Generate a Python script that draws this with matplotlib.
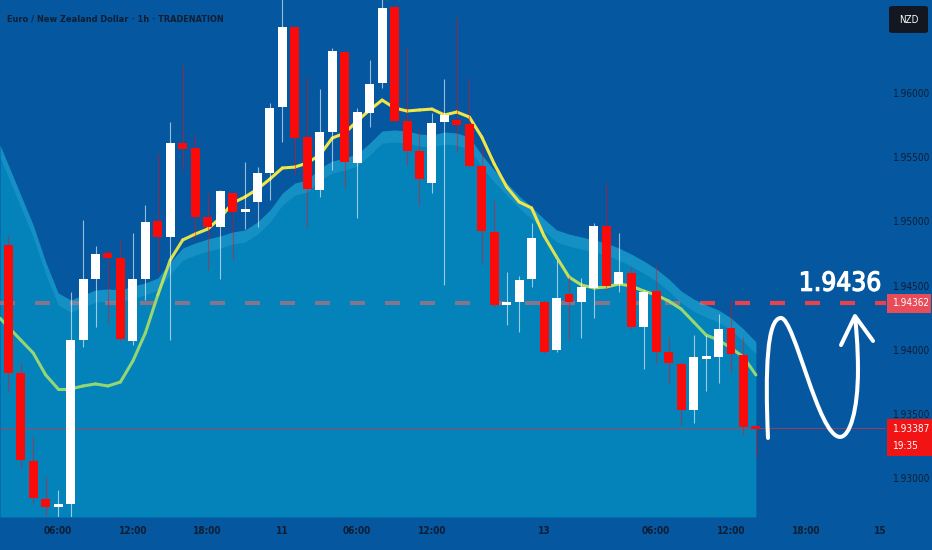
import numpy as np
import matplotlib
matplotlib.use("Agg")
import matplotlib.pyplot as plt
from matplotlib import font_manager as fm
from matplotlib import patheffects as pe
from matplotlib.path import Path
from matplotlib.patches import PathPatch, Rectangle, FancyBboxPatch
from matplotlib.collections import LineCollection
from matplotlib.colors import to_rgb

# ---------------- data ----------------
opens = [1.94816, 1.93818, 1.93133, 1.92836, 1.92774, 1.92797, 1.94075, 1.94551, 1.94753, 1.94714,
         1.94068, 1.94551, 1.95003, 1.94878, 1.95610, 1.95571, 1.95034, 1.94956, 1.95221, 1.95073,
         1.95151, 1.95377, 1.95891, 1.96514, 1.95657, 1.95244, 1.95696, 1.96319, 1.95455, 1.95844,
         1.96078, 1.96670, 1.95782, 1.95548, 1.95299, 1.95774, 1.95790, 1.95758, 1.95431, 1.94917,
         1.94348, 1.94371, 1.94551, 1.94371, 1.93997, 1.94434, 1.94371, 1.94481, 1.94964, 1.94512,
         1.94597, 1.94177, 1.94457, 1.93982, 1.93888, 1.93530, 1.93935, 1.93943, 1.94169, 1.93959,
         1.93397]
highs = [1.94894, 1.93896, 1.93327, 1.93008, 1.92907, 1.94449, 1.95010, 1.94808, 1.94777, 1.94855,
         1.94909, 1.95127, 1.95532, 1.95774, 1.96218, 1.95673, 1.95221, 1.95244, 1.95229, 1.95462,
         1.95423, 1.95922, 1.96764, 1.96522, 1.96125, 1.96031, 1.96351, 1.96327, 1.95883, 1.96257,
         1.96764, 1.96686, 1.96358, 1.95712, 1.95844, 1.96109, 1.96592, 1.96117, 1.95579, 1.95166,
         1.94605, 1.94574, 1.94987, 1.94387, 1.94699, 1.94566, 1.94558, 1.94987, 1.95299, 1.94909,
         1.94644, 1.94465, 1.94660, 1.94099, 1.93904, 1.94114, 1.94114, 1.94278, 1.94395, 1.94099,
         1.93397]
lows = [1.93670, 1.93078, 1.92805, 1.92704, 1.92673, 1.92673, 1.94021, 1.94177, 1.94208, 1.94068,
        1.94036, 1.94387, 1.94597, 1.94075, 1.95400, 1.94855, 1.94621, 1.94551, 1.94699, 1.94940,
        1.94956, 1.95166, 1.95618, 1.95361, 1.94956, 1.95190, 1.95400, 1.95260, 1.95026, 1.95735,
        1.96039, 1.95774, 1.95439, 1.95127, 1.95221, 1.94504, 1.95540, 1.95416, 1.94675, 1.94333,
        1.94192, 1.94138, 1.94488, 1.93974, 1.93982, 1.94075, 1.94091, 1.94247, 1.94465, 1.94449,
        1.94161, 1.93849, 1.93896, 1.93740, 1.93413, 1.93429, 1.93678, 1.93740, 1.93826, 1.93335,
        1.93164]
closes = [1.93818, 1.93140, 1.92844, 1.92774, 1.92797, 1.94075, 1.94551, 1.94745, 1.94714, 1.94083,
          1.94551, 1.94995, 1.94878, 1.95610, 1.95564, 1.95034, 1.94956, 1.95236, 1.95073, 1.95096,
          1.95377, 1.95883, 1.96514, 1.95649, 1.95252, 1.95696, 1.96327, 1.95462, 1.95852, 1.96070,
          1.96662, 1.95782, 1.95548, 1.95330, 1.95766, 1.95829, 1.95751, 1.95431, 1.94925, 1.94348,
          1.94371, 1.94543, 1.94870, 1.93982, 1.94403, 1.94371, 1.94488, 1.94964, 1.94496, 1.94605,
          1.94177, 1.94449, 1.93982, 1.93896, 1.93530, 1.93943, 1.93943, 1.94161, 1.93966, 1.93397,
          1.93387]
ma_values = [1.94177, 1.94075, 1.93974, 1.93803, 1.93694, 1.93694, 1.93717, 1.93733, 1.93717, 1.93748,
             1.93912, 1.94130, 1.94426, 1.94699, 1.94855, 1.94901, 1.94940, 1.95026, 1.95143, 1.95190,
             1.95252, 1.95330, 1.95416, 1.95423, 1.95455, 1.95517, 1.95649, 1.95688, 1.95782, 1.95868,
             1.95945, 1.95883, 1.95860, 1.95868, 1.95875, 1.95829, 1.95852, 1.95813, 1.95657, 1.95447,
             1.95268, 1.95151, 1.95104, 1.94886, 1.94722, 1.94566, 1.94504, 1.94481, 1.94488, 1.94512,
             1.94496, 1.94457, 1.94426, 1.94379, 1.94317, 1.94216, 1.94114, 1.94075, 1.94013, 1.93943,
             1.93803]
band_upper = [1.95439, 1.95205, 1.94971, 1.94683, 1.94442, 1.94387, 1.94426, 1.94465, 1.94473, 1.94465,
              1.94496, 1.94520, 1.94558, 1.94683, 1.94792, 1.94831, 1.94862, 1.94886, 1.94917, 1.94933,
              1.94995, 1.95088, 1.95221, 1.95299, 1.95322, 1.95416, 1.95470, 1.95494, 1.95525, 1.95610,
              1.95704, 1.95712, 1.95704, 1.95681, 1.95673, 1.95696, 1.95688, 1.95657, 1.95517, 1.95400,
              1.95299, 1.95197, 1.95112, 1.95018, 1.94933, 1.94901, 1.94878, 1.94855, 1.94831, 1.94792,
              1.94745, 1.94691, 1.94629, 1.94551, 1.94457, 1.94395, 1.94348, 1.94309, 1.94247, 1.94161,
              1.94060]
band_stripe = 0.00094

time_tick_bars = [4, 10, 16, 22, 28, 34, 43, 52, 58, 64, 70]
time_tick_labels = ["06:00", "12:00", "18:00", "11", "06:00", "12:00", "13", "06:00", "12:00", "18:00", "15"]
price_ticks = [1.930, 1.935, 1.940, 1.945, 1.950, 1.955, 1.960]
price_tick_labels = ["1.93000", "1.93500", "1.94000", "1.94500", "1.95000", "1.95500", "1.96000"]

target_level = 1.94362
target_label = "1.94362"
target_text = "1.9436"
last_price = 1.93387
last_label = "1.93387"
countdown = "19:35"
title = "Euro / New Zealand Dollar · 1h · TRADENATION"
currency = "NZD"

# hand-drawn sketch (bar index, price): S-curve and arrow head
sketch_curve = [(60.97, 1.93312), (60.73, 1.93842), (60.89, 1.94247), (62.01, 1.94247),
                (63.10, 1.94247), (65.00, 1.93320), (66.75, 1.93320),
                (67.55, 1.93320), (68.19, 1.93530), (68.19, 1.93842),
                (68.19, 1.94036), (68.03, 1.94192), (67.95, 1.94255)]
sketch_arrow = [(66.83, 1.94036), (67.95, 1.94262), (69.40, 1.94068)]

# ---------------- style ----------------
BG = "#05579f"
FILL_C, FILL_A = "#03b7db", 0.45
STRIPE_C, STRIPE_A = "#64d2fa", 0.18
TXT = "#0f1e33"
RED = "#fb0a0a"
DASH_RED = "#e8424f"
BOX1 = "#e84c58"
BOX2 = "#f21414"
GREEN = np.array(to_rgb("#93d672"))
YELLOW = np.array(to_rgb("#f2e646"))

_entries = fm.fontManager.ttflist
_names = {f.name for f in _entries}
if "Liberation Sans Narrow" in _names:
    FONT, FS = {"family": "Liberation Sans Narrow"}, 1.0
elif any(f.name == "DejaVu Sans" and f.stretch == "condensed" for f in _entries):
    FONT, FS = {"family": "DejaVu Sans", "stretch": "condensed"}, 0.82
else:
    FONT, FS = {"family": "Liberation Sans"}, 0.84


def tf(size, **kw):
    d = dict(FONT)
    d["size"] = size * FS
    d.update(kw)
    return d


W, H = 932, 550
AX_W, AX_H, AX_B = 886, 517, 33
fig = plt.figure(figsize=(W / 100, H / 100), dpi=100, facecolor=BG)
ax = fig.add_axes([0, AX_B / H, AX_W / W, AX_H / H])
ax.set_facecolor(BG)
XL = (-0.666, 70.44)
YL = (1.92696, 1.96725)
ax.set_xlim(XL)
ax.set_ylim(YL)
ppx = (YL[1] - YL[0]) / AX_H  # price per pixel

o = np.array(opens); h = np.array(highs); l = np.array(lows); c = np.array(closes)
n = len(o)
idx = np.arange(n)


def extend_left(v):
    v = np.asarray(v, dtype=float)
    return np.r_[v[0] + (v[0] - v[1]) * (0 - XL[0]), v]


ext_x = np.r_[XL[0], idx]

# target dashed line (under translucent fill)
ax.axhline(target_level, color=DASH_RED, lw=3, dashes=(3.6, 4.8), dash_capstyle="butt", zorder=1)

# envelope fill
U = extend_left(band_upper)
ax.fill_between(ext_x, YL[0], U, color=FILL_C, alpha=FILL_A, lw=0, zorder=2)
ax.fill_between(ext_x, U - band_stripe, U, color=STRIPE_C, alpha=STRIPE_A, lw=0, zorder=2.1)

# last price line
ax.axhline(last_price, color="#e0303f", lw=0.7, alpha=0.7, zorder=2.5)

# moving average with value gradient
my = extend_left(ma_values)
pts = np.column_stack([ext_x, my]).reshape(-1, 1, 2)
segs = np.concatenate([pts[:-1], pts[1:]], axis=1)
mid = (my[:-1] + my[1:]) / 2
t = np.clip((mid - 1.9425) / (1.9500 - 1.9425), 0, 1)
cols = (1 - t)[:, None] * GREEN + t[:, None] * YELLOW
ax.add_collection(LineCollection(segs, colors=cols, linewidths=2.2, capstyle="round",
                                 joinstyle="round", zorder=3))

# candles
bull = c >= o
ax.vlines(idx[bull], l[bull], h[bull], color="white", lw=0.8, alpha=0.6, zorder=4)
ax.vlines(idx[~bull], l[~bull], h[~bull], color=RED, lw=0.8, alpha=0.5, zorder=4)
min_body = 2.5 * ppx
body_h = np.maximum(np.abs(c - o), min_body)
body_b = (o + c) / 2 - body_h / 2
ax.bar(idx, body_h, bottom=body_b, width=0.72, color=["white" if b else RED for b in bull],
       lw=0, zorder=5)

# sketch
codes = [Path.MOVETO] + [Path.CURVE4] * (len(sketch_curve) - 1)
ax.add_patch(PathPatch(Path(sketch_curve, codes), fc="none", ec="white", lw=2.9,
                       capstyle="round", joinstyle="round", zorder=6, clip_on=False))
ax_x, ax_y = zip(*sketch_arrow)
ax.plot(ax_x, ax_y, color="white", lw=2.9, solid_capstyle="round", solid_joinstyle="round", zorder=6)

# big target text (medium weight via thin stroke)
ax.annotate(target_text, xy=(66.75, target_level), xytext=(0, 9), textcoords="offset points",
            ha="center", va="baseline", color="white", zorder=7,
            path_effects=[pe.withStroke(linewidth=0.9, foreground="white")], **tf(23))

# axes / ticks
for s in ax.spines.values():
    s.set_visible(False)
ax.set_xticks(time_tick_bars, time_tick_labels)
ax.yaxis.tick_right()
ax.set_yticks(price_ticks, price_tick_labels)
ax.tick_params(axis="x", length=0, pad=6.5, labelcolor=TXT)
ax.tick_params(axis="y", length=0, pad=5, labelcolor=TXT)
for lab in ax.get_xticklabels():
    lab.set(**tf(8.8, weight="bold"))
for lab in ax.get_yticklabels():
    lab.set(**tf(8.8))

# price boxes on the axis
yt = ax.get_yaxis_transform()
ax.add_patch(Rectangle((887 / AX_W, target_level - 9.5 * ppx), 44 / AX_W, 19 * ppx,
                       transform=yt, fc=BOX1, ec="none", clip_on=False, zorder=8))
ax.text(893 / AX_W, target_level, target_label, transform=yt, ha="left", va="center",
        color="white", zorder=9, clip_on=False, **tf(8.8))
ax.add_patch(Rectangle((887 / AX_W, last_price - 27.7 * ppx), 45 / AX_W, 37 * ppx,
                       transform=yt, fc=BOX2, ec="none", clip_on=False, zorder=8))
ax.text(893 / AX_W, last_price - 1 * ppx, last_label, transform=yt, ha="left", va="center",
        color="white", zorder=9, clip_on=False, **tf(8.8))
ax.text(893 / AX_W, last_price - 17.5 * ppx, countdown, transform=yt, ha="left", va="center",
        color="white", zorder=9, clip_on=False, **tf(8.8))

# title and currency badge
fig.text(7 / W, 1 - 19 / H, title, ha="left", va="center", color=TXT, **tf(8.0, weight="bold"))
fig.patches.append(FancyBboxPatch((889 / W, 1 - 33 / H), 39 / W, 27 / H,
                                  boxstyle="round,pad=0,rounding_size=0.004",
                                  transform=fig.transFigure, fc="#131722", ec="none"))
fig.text(908.5 / W, 1 - 20 / H, currency, ha="center", va="center", color="white", **tf(8.6))

fig.savefig("out.png", dpi=100, facecolor=BG)
